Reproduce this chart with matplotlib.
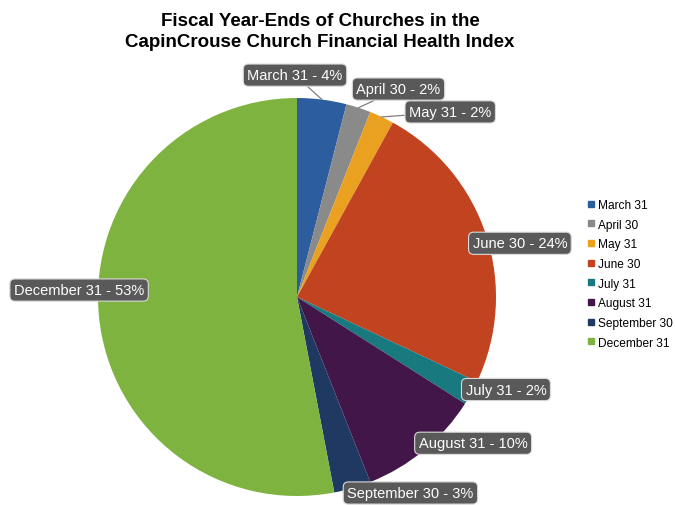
import matplotlib
matplotlib.use("Agg")
import matplotlib.pyplot as plt
from matplotlib.lines import Line2D
import numpy as np

plt.rcParams['font.family'] = ['Liberation Sans', 'DejaVu Sans']

categories = ["March 31", "April 30", "May 31", "June 30", "July 31",
              "August 31", "September 30", "December 31"]
values = [4, 2, 2, 24, 2, 10, 3, 53]
colors = ["#2C5E9F", "#8A8A8A", "#E9A11F", "#C1431F", "#18797F",
          "#431649", "#1F3962", "#7FB33F"]
title = "Fiscal Year-Ends of Churches in the\nCapinCrouse Church Financial Health Index"

# label box positions (axes data coords, pie radius = 1)
label_pos = [(-0.01, 1.115), (0.51, 1.045), (0.77, 0.93), (1.12, 0.27),
             (1.05, -0.465), (0.885, -0.735), (0.57, -0.985), (-1.095, 0.035)]
leader = [True, True, True, False, False, False, False, False]

W, H = 675, 506
fig = plt.figure(figsize=(W / 100, H / 100), dpi=100)
cx, cy, r = 297, 298, 199
ax = fig.add_axes([(cx - r) / W, (H - cy - r) / H, 2 * r / W, 2 * r / H])
wedges, _ = ax.pie(values, colors=colors, startangle=90, counterclock=False,
                   radius=1, wedgeprops=dict(linewidth=0))
ax.set_xlim(-1, 1)
ax.set_ylim(-1, 1)
ax.set_aspect("equal")
ax.axis("off")

for w, cat, val, pos, ld in zip(wedges, categories, values, label_pos, leader):
    txt = f"{cat} - {val}%"
    bbox = dict(boxstyle="round,pad=0.28,rounding_size=0.35", fc="#595959",
                ec="#d9d9d9", lw=0.8)
    if ld:
        ang = np.deg2rad((w.theta1 + w.theta2) / 2)
        ax.annotate(txt, xy=(np.cos(ang), np.sin(ang)), xytext=pos,
                    ha="center", va="center", color="white", fontsize=10.5,
                    bbox=bbox, annotation_clip=False,
                    arrowprops=dict(arrowstyle="-", color="#7f7f7f", lw=0.9,
                                    shrinkA=0, shrinkB=0))
    else:
        ax.text(pos[0], pos[1], txt, ha="center", va="center", color="white",
                fontsize=10.5, bbox=bbox, clip_on=False)

fig.text(320 / W, 1 - 32 / H, title, ha="center", va="center",
         fontsize=13.5, fontweight="bold", linespacing=1.25)

handles = [Line2D([], [], marker="s", linestyle="none", markersize=4,
                  markerfacecolor=c, markeredgecolor=c) for c in colors]
fig.legend(handles, categories, loc="upper left",
           bbox_to_anchor=(588 / W, 1 - 200 / H), frameon=False,
           fontsize=8.6, handlelength=0.5, handletextpad=0.35,
           labelspacing=0.64, borderpad=0, borderaxespad=0)

fig.savefig("out.png", dpi=100)
